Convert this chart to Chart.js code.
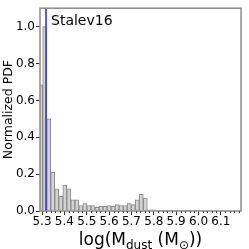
<!DOCTYPE html>
<html>
<head>
<meta charset="utf-8">
<script src="https://cdn.jsdelivr.net/npm/chart.js@4"></script>
<style>
  html, body { margin: 0; padding: 0; background: #fff; }
  #wrap { width: 249px; height: 249px; }
</style>
</head>
<body>
<div id="wrap"><canvas id="pdfChart" width="249" height="249"></canvas></div>
<script>
// histogram bin centres (log Mdust) and normalized PDF heights
const binCenters = [
  5.294, 5.312, 5.330, 5.348, 5.366, 5.384, 5.402, 5.420, 5.438, 5.456,
  5.474, 5.492, 5.510, 5.528, 5.546, 5.564, 5.582, 5.600, 5.618, 5.636,
  5.654, 5.672, 5.690, 5.708, 5.726, 5.744, 5.762, 5.780, 5.798, 5.816,
  5.834, 5.852, 5.870, 5.888, 5.906, 5.924, 5.942, 5.960, 5.978, 5.996
];
const pdfValues = [
  0.685, 1.0, 0.50, 0.21, 0.12, 0.08, 0.14, 0.12, 0.06, 0.06,
  0.03, 0.04, 0.03, 0.03, 0.02, 0.025, 0.025, 0.03, 0.025, 0.035,
  0.03, 0.03, 0.04, 0.035, 0.06, 0.09, 0.07, 0.006, 0.006, 0.004,
  0.003, 0.002, 0.002, 0.002, 0.001, 0.001, 0.001, 0.001, 0.001, 0.001
];
const xTicks = [5.3, 5.4, 5.5, 5.6, 5.7, 5.8, 5.9, 6.0, 6.1];
const yTicks = [0.0, 0.2, 0.4, 0.6, 0.8, 1.0];
const markerX = 5.318; // vertical blue line
const panelLabel = "Stalev16";

const FONT = "'DejaVu Sans', sans-serif";

// frame, minor ticks, marker line, label and x title
const extrasPlugin = {
  id: "extras",
  afterDatasetsDraw(chart) {
    const { ctx, chartArea: a, scales } = chart;
    const xs = scales.x;
    ctx.save();
    // blue marker
    const bx = xs.getPixelForValue(markerX);
    ctx.strokeStyle = "rgba(60,60,215,0.85)";
    ctx.lineWidth = 2;
    ctx.beginPath();
    ctx.moveTo(bx, a.top);
    ctx.lineTo(bx, a.bottom);
    ctx.stroke();
    ctx.restore();
  },
  afterDraw(chart) {
    const { ctx, chartArea: a, scales } = chart;
    const xs = scales.x;
    ctx.save();
    // frame
    ctx.strokeStyle = "#8c8c8c";
    ctx.lineWidth = 1.5;
    ctx.strokeRect(a.left, a.top, a.right - a.left, a.bottom - a.top);

    // minor x ticks every 0.02
    ctx.strokeStyle = "#444";
    ctx.lineWidth = 1;
    for (let i = 0; i < 45; i++) {
      if (i % 5 === 0) continue;
      const v = 5.3 + i * 0.02;
      const px = Math.round(xs.getPixelForValue(v)) + 0.5;
      if (px > a.right) break;
      ctx.beginPath();
      ctx.moveTo(px, a.bottom);
      ctx.lineTo(px, a.bottom + 2);
      ctx.stroke();
    }

    // panel label
    ctx.fillStyle = "#000";
    ctx.font = "14px " + FONT;
    ctx.textAlign = "left";
    ctx.textBaseline = "alphabetic";
    ctx.fillText(panelLabel, 51, 25);

    // x title with subscripts
    const big = 17, small = 12;
    const parts = [
      { t: "log(M", s: big, dy: 0 },
      { t: "dust", s: small, dy: 4 },
      { t: " (M", s: big, dy: 0 },
      { t: "\u2299", s: small, dy: 4 },
      { t: "))", s: big, dy: 0 }
    ];
    let total = 0;
    parts.forEach(p => { ctx.font = p.s + "px " + FONT; p.w = ctx.measureText(p.t).width; total += p.w; });
    let x = (a.left + a.right) / 2 - total / 2;
    const base = 245;
    parts.forEach(p => {
      ctx.font = p.s + "px " + FONT;
      ctx.fillText(p.t, x, base + p.dy);
      x += p.w;
    });
    ctx.restore();
  }
};

new Chart(document.getElementById("pdfChart"), {
  type: "bar",
  data: {
    datasets: [{
      data: binCenters.map((c, i) => ({ x: c, y: pdfValues[i] })),
      backgroundColor: "#d3d3d3",
      borderColor: "#8a8a8a",
      borderWidth: { top: 1, left: 1, right: 1, bottom: 0 },
      barPercentage: 1.0,
      categoryPercentage: 1.0,
      borderSkipped: false
    }]
  },
  options: {
    responsive: false,
    animation: false,
    events: [],
    layout: { padding: { top: 6, right: 8, left: 0, bottom: 0 } },
    plugins: { legend: { display: false }, tooltip: { enabled: false } },
    scales: {
      x: {
        type: "linear",
        offset: false,
        min: 5.291,
        max: 6.19,
        afterFit: (s) => { s.height = 38; },
        afterBuildTicks: (s) => { s.ticks = xTicks.map(v => ({ value: v })); },
        grid: { display: true, drawOnChartArea: false, offset: false, tickLength: 4, tickColor: "#333" },
        border: { display: false },
        ticks: {
          autoSkip: false,
          maxRotation: 0,
          padding: 0,
          color: "#000",
          font: { family: FONT, size: 12 },
          callback: (v) => Number(v).toFixed(1)
        }
      },
      y: {
        min: 0,
        max: 1.1,
        afterFit: (s) => { s.width = 40; },
        afterBuildTicks: (s) => { s.ticks = yTicks.map(v => ({ value: v })); },
        grid: { display: true, drawOnChartArea: false, tickLength: 4, tickColor: "#333" },
        border: { display: false },
        ticks: {
          padding: 1,
          color: "#000",
          font: { family: FONT, size: 12 },
          callback: (v) => Number(v).toFixed(1)
        },
        title: {
          display: true,
          text: "Normalized PDF",
          color: "#000",
          font: { family: FONT, size: 12.5 },
          padding: { top: 1, bottom: 0 }
        }
      }
    }
  },
  plugins: [extrasPlugin]
});
</script>
</body>
</html>
